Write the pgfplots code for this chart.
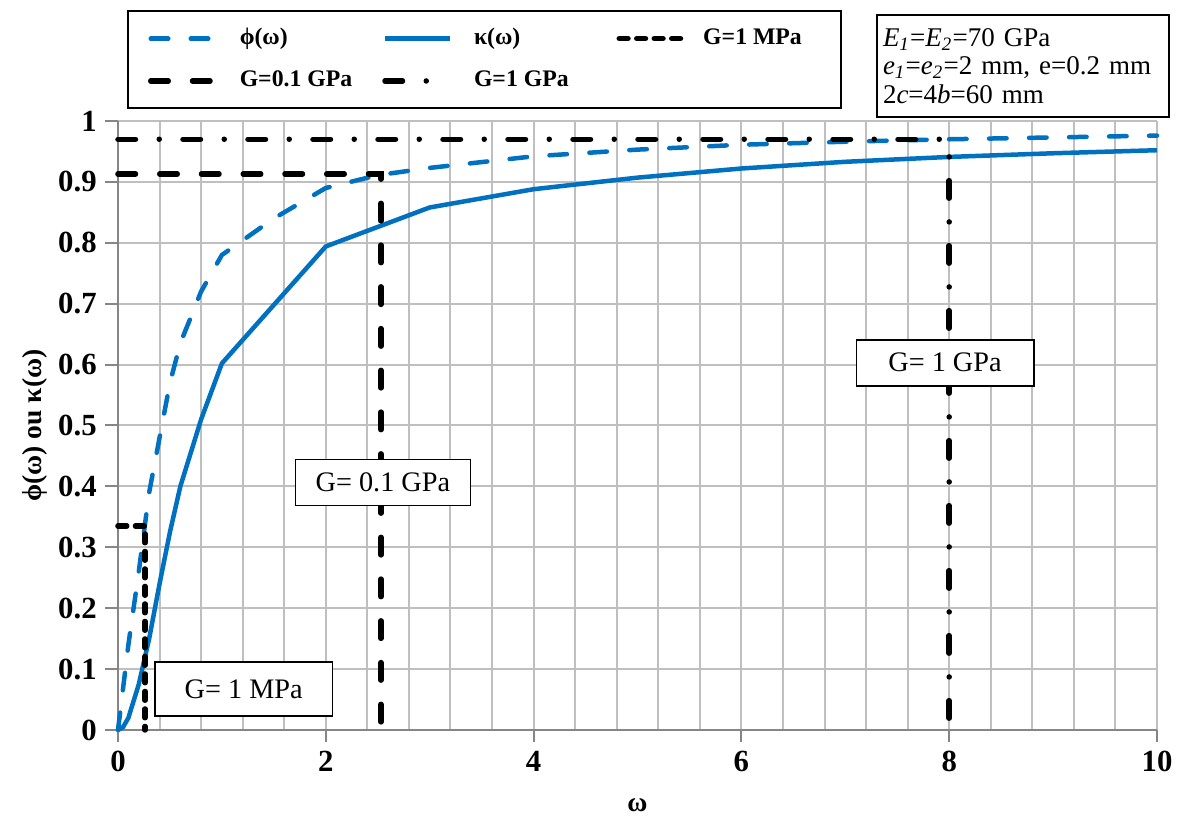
\documentclass[border=0pt]{standalone}
\usepackage{fontspec}
\setmainfont{Liberation Serif}
\usepackage{pgfplots}
\pgfplotsset{compat=1.18}
\definecolor{xblue}{HTML}{0070C0}
\definecolor{gridgray}{HTML}{BFBFBF}
\definecolor{axgray}{HTML}{868686}
\begin{document}
\begin{tikzpicture}
\useasboundingbox (-47.2pt,-34.4pt) rectangle (424.4pt,292pt);
\begin{axis}[
  width=415.6pt, height=243.6pt, scale only axis,
  xmin=0, xmax=10, ymin=0, ymax=1,
  xtick={0,2,4,6,8,10}, minor x tick num=4,
  ytick={0,0.1,0.2,0.3,0.4,0.5,0.6,0.7,0.8,0.9,1},
  grid=both,
  major grid style={gridgray, line width=0.8pt},
  minor grid style={gridgray, line width=0.8pt},
  axis x line*=bottom, axis y line*=left,
  axis line style={-, axgray, line width=1pt},
  tick align=outside, major tick length=5pt, minor tick length=0pt,
  tick style={axgray, line width=0.8pt},
  /pgf/number format/assume math mode=true,
  tick label style={font=\bfseries\fontsize{12.3}{12.3}\selectfont},
  yticklabel style={/pgf/number format/fixed, /pgf/number format/precision=1},
  xlabel={ω}, ylabel={ϕ(ω) ou κ(ω)},
  label style={font=\bfseries\fontsize{11}{11}\selectfont},
  xlabel style={at={(axis description cs:0.5,-0.123)}, anchor=center},
  ylabel style={at={(axis description cs:-0.0799,0.5)}, anchor=center},
  clip=false,
  legend columns=3,
  legend cell align=left,
  legend style={at={(rel axis cs:0.00866,1.1823)}, anchor=north west, draw=black, line width=0.8pt,
    font=\bfseries\fontsize{9.5}{9.5}\selectfont, inner xsep=8pt, inner ysep=5pt, row sep=5pt},
  legend image code/.code={\draw[#1] (0pt,0pt) -- (26pt,0pt);},
]
\addplot[xblue, line width=1.8pt, line cap=round, dash pattern=on 7pt off 9pt] coordinates {
(0,0) (0.05,0.07) (0.1,0.14) (0.2,0.26) (0.3,0.39) (0.4,0.48) (0.5,0.57) (0.6,0.635) (0.8,0.72) (1,0.78) (1.5,0.84) (2,0.89) (2.5,0.911) (3,0.923) (4,0.942) (5,0.953) (6,0.961) (7,0.966) (8,0.970) (9,0.973) (10,0.976)};
\addlegendentry{\hspace{6.5pt}\makebox[55pt][l]{ϕ(ω)}}
\addplot[xblue, line width=1.8pt] coordinates {
(0,0) (0.05,0.005) (0.1,0.02) (0.2,0.075) (0.3,0.15) (0.4,0.24) (0.5,0.325) (0.6,0.40) (0.8,0.51) (1,0.602) (2,0.794) (3,0.858) (4,0.888) (5,0.907) (6,0.922) (7,0.933) (8,0.941) (9,0.947) (10,0.952)};
\addlegendentry{\hspace{6.5pt}\makebox[55pt][l]{κ(ω)}}
\addplot[black, line width=2.2pt, line cap=round, dash pattern=on 3.5pt off 3.5pt] coordinates {
(0,0.335) (0.26,0.335) (0.26,0)};
\addlegendentry{\hspace{4.5pt}\makebox[45pt][l]{G=1 MPa}}
\addplot[black, line width=2.2pt, line cap=round, dash pattern=on 7pt off 9.7pt] coordinates {
(0,0.913) (2.53,0.913) (2.53,0)};
\addlegendentry{\hspace{6.5pt}\makebox[55pt][l]{G=0.1 GPa}}
\addplot[black, line width=2.2pt, line cap=round, dash pattern=on 7pt off 9.5pt on 0pt off 9.5pt] coordinates {
(0,0.970) (8,0.970)};
\addlegendentry{\hspace{6.5pt}\makebox[55pt][l]{G=1 GPa}}
\addplot[black, line width=2.2pt, line cap=round, dash pattern=on 0pt off 9.5pt on 7pt off 9.5pt, forget plot] coordinates {
(8,0.941) (8,0)};
\node[draw=black, line width=0.6pt, fill=white, minimum width=71pt, minimum height=21.6pt, font=\fontsize{11.3}{11.3}\selectfont] at (axis cs:1.21,0.067) {G= 1 MPa};
\node[draw=black, line width=0.6pt, fill=white, minimum width=70pt, minimum height=18.4pt, font=\fontsize{11.3}{11.3}\selectfont] at (axis cs:2.55,0.406) {G= 0.1 GPa};
\node[draw=black, line width=0.6pt, fill=white, minimum width=71pt, minimum height=18.4pt, font=\fontsize{11.3}{11.3}\selectfont] at (axis cs:7.96,0.603) {G= 1 GPa};
\end{axis}
\node[draw=black, line width=0.8pt, fill=white, anchor=north west, align=left, text width=112pt, inner xsep=2.4pt, inner ysep=5.3pt, font=\fontsize{10.8}{11.4}\selectfont] at (303.2pt,286.4pt)
{\textit{E}\textsubscript{\textit{1}}=\textit{E}\textsubscript{\textit{2}}=70 GPa\\
 \textit{e}\textsubscript{\textit{1}}=\textit{e}\textsubscript{\textit{2}}=2 mm, e=0.2 mm\\
 2\textit{c}=4\textit{b}=60 mm};
\end{tikzpicture}
\end{document}
